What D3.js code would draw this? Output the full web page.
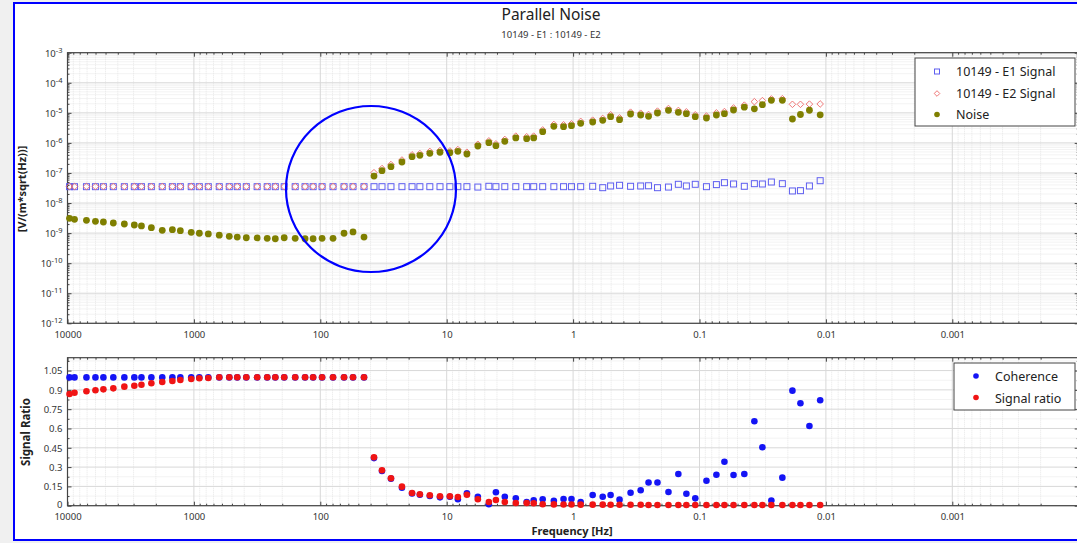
<!DOCTYPE html>
<html>
<head>
<meta charset="utf-8">
<script src="https://cdn.jsdelivr.net/npm/d3@7"></script>
<style>
  body { margin: 0; background: #f0f0f0; }
  svg { display: block; font-family: "Noto Sans", "DejaVu Sans", sans-serif; }
</style>
</head>
<body>
<div id="vis"></div>
<script>
// frecuencias [Hz], comunes a todas las series
const freq = [9640, 8800, 7080, 6010, 5200, 4340, 3550, 2960, 2600, 2170,
  1780, 1480, 1280, 1050, 906, 769, 630, 525, 454, 385,
  316, 263, 227, 193, 158, 132, 114, 96.8, 79.3, 64.9,
  55.1, 45.1, 37.6, 32.5, 27.6, 22.6, 18.8, 16.3, 13.6, 11.3,
  9.44, 8.16, 6.92, 5.67, 4.64, 4.08, 3.47, 2.84, 2.33, 2.05,
  1.74, 1.42, 1.19, 1.03, 0.871, 0.700, 0.583, 0.505, 0.429, 0.351,
  0.292, 0.253, 0.215, 0.176, 0.147, 0.127, 0.108, 0.0881, 0.0735, 0.0635,
  0.0538, 0.0442, 0.0368, 0.0318, 0.0270, 0.0221, 0.0184, 0.0159, 0.0135, 0.0111];

const e1Signal = [3.5e-8, 3.5e-8, 3.5e-8, 3.5e-8, 3.5e-8, 3.5e-8, 3.5e-8, 3.5e-8, 3.5e-8, 3.5e-8,
  3.5e-8, 3.5e-8, 3.5e-8, 3.5e-8, 3.5e-8, 3.5e-8, 3.5e-8, 3.5e-8, 3.5e-8, 3.5e-8,
  3.5e-8, 3.5e-8, 3.5e-8, 3.5e-8, 3.5e-8, 3.5e-8, 3.5e-8, 3.5e-8, 3.5e-8, 3.5e-8,
  3.5e-8, 3.5e-8, 3.5e-8, 3.5e-8, 3.5e-8, 3.5e-8, 3.5e-8, 3.5e-8, 3.5e-8, 3.5e-8,
  3.5e-8, 3.5e-8, 3.5e-8, 3.4e-8, 3.6e-8, 3.5e-8, 3.5e-8, 3.5e-8, 3.5e-8, 3.5e-8,
  3.5e-8, 3.5e-8, 3.5e-8, 3.5e-8, 3.5e-8, 3.6e-8, 3.24e-8, 3.69e-8, 3.89e-8, 3.6e-8,
  3.69e-8, 3.75e-8, 3.24e-8, 3.4e-8, 4.2e-8, 3.69e-8, 4.2e-8, 3.5e-8, 4.1e-8, 4.75e-8,
  4.3e-8, 3.6e-8, 4.4e-8, 4.3e-8, 5.0e-8, 4.4e-8, 2.52e-8, 2.58e-8, 3.69e-8, 5.53e-8];

const e2Signal = [3.55e-8, 3.55e-8, 3.55e-8, 3.55e-8, 3.55e-8, 3.55e-8, 3.55e-8, 3.55e-8, 3.55e-8, 3.55e-8,
  3.55e-8, 3.55e-8, 3.55e-8, 3.55e-8, 3.55e-8, 3.55e-8, 3.55e-8, 3.55e-8, 3.55e-8, 3.55e-8,
  3.55e-8, 3.55e-8, 3.55e-8, 3.55e-8, 3.55e-8, 3.55e-8, 3.55e-8, 3.55e-8, 3.55e-8, 3.55e-8,
  3.55e-8, 3.55e-8, 1.02e-7, 1.4e-7, 1.9e-7, 2.7e-7, 4.0e-7, 4.4e-7, 5.2e-7, 5.6e-7,
  5.4e-7, 6.0e-7, 4.9e-7, 9.0e-7, 1.17e-6, 9.3e-7, 1.3e-6, 1.68e-6, 1.6e-6, 1.68e-6,
  2.7e-6, 4.1e-6, 4.0e-6, 4.3e-6, 5.2e-6, 5.7e-6, 6.5e-6, 8.6e-6, 6.8e-6, 1.05e-5,
  9.7e-6, 8.8e-6, 1.14e-5, 1.39e-5, 1.2e-5, 1.08e-5, 8.6e-6, 7.8e-6, 1.0e-5, 1.1e-5,
  1.45e-5, 1.8e-5, 2.35e-5, 2.55e-5, 2.9e-5, 2.95e-5, 1.92e-5, 1.92e-5, 1.95e-5, 1.97e-5];

const noise = [3.11e-9, 2.88e-9, 2.67e-9, 2.47e-9, 2.34e-9, 2.17e-9, 2.01e-9, 1.86e-9, 1.73e-9, 1.51e-9,
  1.24e-9, 1.30e-9, 1.20e-9, 1.06e-9, 9.9e-10, 9.4e-10, 8.5e-10, 7.8e-10, 7.4e-10, 7.0e-10,
  6.9e-10, 6.7e-10, 6.5e-10, 7.0e-10, 6.7e-10, 6.5e-10, 6.5e-10, 6.7e-10, 6.7e-10, 9.9e-10,
  1.09e-9, 7.4e-10, 7.9e-8, 1.19e-7, 1.62e-7, 2.32e-7, 3.48e-7, 3.87e-7, 4.51e-7, 4.88e-7,
  4.72e-7, 5.26e-7, 4.28e-7, 7.89e-7, 1.02e-6, 8.07e-7, 1.13e-6, 1.46e-6, 1.38e-6, 1.46e-6,
  2.36e-6, 3.56e-6, 3.46e-6, 3.73e-6, 4.49e-6, 4.95e-6, 5.65e-6, 7.45e-6, 5.91e-6, 9.14e-6,
  8.47e-6, 7.67e-6, 9.88e-6, 1.21e-5, 1.04e-5, 9.36e-6, 7.45e-6, 6.74e-6, 8.47e-6, 9.36e-6,
  1.24e-5, 1.54e-5, 1.36e-5, 1.87e-5, 2.61e-5, 2.61e-5, 6.24e-6, 8.81e-6, 1.22e-5, 8.61e-6];

const coherence = [0.997, 0.997, 0.997, 0.997, 0.997, 0.997, 0.997, 0.997, 0.997, 0.997,
  0.997, 0.997, 0.997, 0.997, 0.997, 0.997, 0.997, 0.997, 0.997, 0.997,
  0.997, 0.997, 0.997, 0.997, 0.997, 0.997, 0.997, 0.997, 0.997, 0.997,
  0.997, 0.997, 0.37, 0.27, 0.21, 0.14, 0.095, 0.085, 0.075, 0.065,
  0.07, 0.05, 0.096, 0.07, 0.011, 0.104, 0.07, 0.057, 0.029, 0.042,
  0.05, 0.039, 0.052, 0.052, 0.029, 0.083, 0.07, 0.083, 0.047, 0.101,
  0.12, 0.18, 0.18, 0.107, 0.246, 0.093, 0.057, 0.194, 0.241, 0.342,
  0.238, 0.246, 0.656, 0.454, 0.04, 0.218, 0.894, 0.796, 0.619, 0.819];

const signalRatio = [0.868, 0.878, 0.889, 0.897, 0.904, 0.912, 0.925, 0.932, 0.940, 0.951,
  0.961, 0.969, 0.977, 0.984, 0.990, 0.992, 0.998, 0.998, 0.998, 0.998,
  0.998, 0.998, 0.998, 0.998, 0.998, 0.998, 0.998, 0.998, 0.998, 0.998,
  0.998, 0.998, 0.376, 0.275, 0.213, 0.148, 0.099, 0.089, 0.081, 0.073,
  0.073, 0.068, 0.085, 0.05, 0.029, 0.044, 0.029, 0.021, 0.021, 0.019,
  0.011, 0.01, 0.009, 0.009, 0.008, 0.008, 0.008, 0.007, 0.007, 0.007,
  0.007, 0.006, 0.006, 0.006, 0.006, 0.006, 0.006, 0.005, 0.005, 0.005,
  0.005, 0.005, 0.005, 0.005, 0.005, 0.005, 0.005, 0.005, 0.005, 0.005];

const xTicks = [10000, 1000, 100, 10, 1, 0.1, 0.01, 0.001];
const xTickLabels = ["10000", "1000", "100", "10", "1", "0.1", "0.01", "0.001"];
const yTopTicks = [1e-12, 1e-11, 1e-10, 1e-9, 1e-8, 1e-7, 1e-6, 1e-5, 1e-4, 1e-3];
const yBotTicks = [0, 0.15, 0.3, 0.45, 0.6, 0.75, 0.9, 1.05];
const topLegend = ["10149 - E1 Signal", "10149 - E2 Signal", "Noise"];
const botLegend = ["Coherence", "Signal ratio"];

const WIDTH = 1077;
const HEIGHT = 543;
const LEFT = 67.5, RIGHT = 1078.7;
const TOP1 = 52.7, BOTTOM1 = 323.3;
const TOP2 = 357.7, BOTTOM2 = 505.7;

const SVG = d3.select("#vis").append("svg").attr("width", WIDTH).attr("height", HEIGHT);

SVG.append("rect").attr("width", WIDTH).attr("height", HEIGHT).attr("fill", "#f0f0f0");
SVG.append("rect")
  .attr("x", 14).attr("y", 3).attr("width", 1080).attr("height", 537)
  .attr("fill", "#fff").attr("stroke", "#0000ff").attr("stroke-width", 2);

const escalaX = d3.scaleLog().domain([1e4, 1e-4]).range([LEFT, RIGHT]);
const escalaY1 = d3.scaleLog().domain([1e-12, 1e-3]).range([BOTTOM1, TOP1]);
const escalaY2 = d3.scaleLinear().domain([0, 1.15]).range([BOTTOM2, TOP2]);

// valores menores del eje log
const xMinor = [];
for (let k = -4; k < 4; k++) for (let m = 2; m <= 9; m++) xMinor.push(m * Math.pow(10, k));
const yMinor = [];
for (let k = -12; k < -3; k++) for (let m = 2; m <= 9; m++) yMinor.push(m * Math.pow(10, k));
const y2Minor = d3.range(0.075, 1.15, 0.15);

// rombo regular (cuadrado girado)
const rombo = (s) => `M0,${-s}L${s},0L0,${s}L${-s},0Z`;

function grid(g, top, bottom, yScale, yMaj, yMin) {
  g.selectAll(".gxm").data(xMinor).join("line")
    .attr("x1", escalaX).attr("x2", escalaX).attr("y1", top).attr("y2", bottom)
    .attr("stroke", "#e6e6e6").attr("stroke-dasharray", "1,1");
  g.selectAll(".gym").data(yMin).join("line")
    .attr("x1", LEFT).attr("x2", RIGHT).attr("y1", yScale).attr("y2", yScale)
    .attr("stroke", "#e6e6e6").attr("stroke-dasharray", "1,1");
  g.append("g").selectAll("line").data(xTicks).join("line")
    .attr("x1", escalaX).attr("x2", escalaX).attr("y1", top).attr("y2", bottom)
    .attr("stroke", "#d8d8d8");
  g.append("g").selectAll("line").data(yMaj).join("line")
    .attr("x1", LEFT).attr("x2", RIGHT).attr("y1", yScale).attr("y2", yScale)
    .attr("stroke", "#d8d8d8");
}

function frame(top, bottom, yScale, yMaj, yMin, labelFn) {
  const g = SVG.append("g");
  grid(g, top, bottom, yScale, yMaj, yMin);
  // ejes con ticks hacia adentro
  const axB = g.append("g").attr("transform", `translate(0, ${bottom})`);
  axB.call(d3.axisBottom(escalaX).tickValues(xMinor).tickSize(-2).tickFormat(""));
  axB.append("g").call(d3.axisBottom(escalaX).tickValues(xTicks).tickSizeInner(-4).tickSizeOuter(0).tickPadding(8)
    .tickFormat((d, i) => xTickLabels[i]));
  const axT = g.append("g").attr("transform", `translate(0, ${top})`);
  axT.call(d3.axisTop(escalaX).tickValues(xMinor).tickSize(-2).tickFormat(""));
  axT.append("g").call(d3.axisTop(escalaX).tickValues(xTicks).tickSize(-4).tickFormat(""));
  const axL = g.append("g").attr("transform", `translate(${LEFT}, 0)`);
  axL.call(d3.axisLeft(yScale).tickValues(yMin).tickSize(-2).tickFormat(""));
  const axL2 = axL.append("g").call(d3.axisLeft(yScale).tickValues(yMaj).tickSizeInner(-4).tickSizeOuter(0).tickFormat(""));
  const axR = g.append("g").attr("transform", `translate(${RIGHT}, 0)`);
  axR.call(d3.axisRight(yScale).tickValues(yMin).tickSize(-2).tickFormat(""));
  axR.append("g").call(d3.axisRight(yScale).tickValues(yMaj).tickSize(-4).tickFormat(""));
  g.selectAll(".domain").remove();
  g.selectAll(".tick line").attr("stroke", "#444");
  g.selectAll(".tick text").attr("font-family", "'Noto Sans', sans-serif").attr("font-size", 9.5).attr("fill", "#333");
  axL2.selectAll(".tick").append("text")
    .attr("x", -5).attr("dy", "0.35em").attr("text-anchor", "end")
    .attr("font-size", 9.5).attr("fill", "#333").attr("font-family", "'Noto Sans', sans-serif")
    .each(function (d) { labelFn(d3.select(this), d); });
  g.append("rect").attr("x", LEFT).attr("y", top).attr("width", RIGHT - LEFT).attr("height", bottom - top)
    .attr("fill", "none").attr("stroke", "#444").attr("stroke-width", 1.2);
  return g;
}

const grafico1 = frame(TOP1, BOTTOM1, escalaY1, yTopTicks, yMinor, (t, d) => {
  t.append("tspan").text("10");
  t.append("tspan").attr("dy", -4).attr("font-size", 7.5).text(Math.round(Math.log10(d)));
});
const grafico2 = frame(TOP2, BOTTOM2, escalaY2, yBotTicks, y2Minor, (t, d) => {
  t.attr("dy", d === 0 ? "0.2em" : "0.35em").text(d3.format("~g")(d));
});

// series superiores
grafico1.append("g").selectAll("rect").data(freq).join("rect")
  .attr("x", (d) => escalaX(d) - 3).attr("y", (d, i) => escalaY1(e1Signal[i]) - 3)
  .attr("width", 6).attr("height", 6)
  .attr("fill", "none").attr("stroke", "#5f5ff0").attr("stroke-width", 1);
grafico1.append("g").selectAll("path").data(freq).join("path")
  .attr("d", rombo(3.3))
  .attr("transform", (d, i) => `translate(${escalaX(d)}, ${escalaY1(e2Signal[i])})`)
  .attr("fill", "none").attr("stroke", "#f07878").attr("stroke-width", 1);
grafico1.append("g").selectAll("circle").data(freq).join("circle")
  .attr("cx", escalaX).attr("cy", (d, i) => escalaY1(noise[i]))
  .attr("r", 3.4).attr("fill", "#7f7f00");

// series inferiores
grafico2.append("g").selectAll("circle").data(freq).join("circle")
  .attr("cx", escalaX).attr("cy", (d, i) => escalaY2(coherence[i]))
  .attr("r", 3.3).attr("fill", "#1414f5");
grafico2.append("g").selectAll("circle").data(freq).join("circle")
  .attr("cx", escalaX).attr("cy", (d, i) => escalaY2(signalRatio[i]))
  .attr("r", 3.3).attr("fill", "#f01414");

// leyendas
const ley1 = SVG.append("g");
ley1.append("rect").attr("x", 915).attr("y", 58).attr("width", 160).attr("height", 68)
  .attr("fill", "#fff").attr("stroke", "#444");
ley1.selectAll("text").data(topLegend).join("text")
  .attr("x", 956).attr("y", (d, i) => 72 + i * 21.5).attr("dy", "0.35em")
  .attr("font-size", 12.5).attr("fill", "#222").text((d) => d);
ley1.append("rect").attr("x", 934.5).attr("y", 69).attr("width", 5).attr("height", 5)
  .attr("fill", "none").attr("stroke", "#5f5ff0");
ley1.append("path").attr("d", rombo(2.8))
  .attr("transform", "translate(937, 93.5)").attr("fill", "none").attr("stroke", "#f07878");
ley1.append("circle").attr("cx", 937).attr("cy", 114.5).attr("r", 2.8).attr("fill", "#7f7f00");

const ley2 = SVG.append("g");
ley2.append("rect").attr("x", 954).attr("y", 363).attr("width", 121).attr("height", 47)
  .attr("fill", "#fff").attr("stroke", "#444");
ley2.selectAll("text").data(botLegend).join("text")
  .attr("x", 995).attr("y", (d, i) => 377 + i * 21.5).attr("dy", "0.35em")
  .attr("font-size", 12.5).attr("fill", "#222").text((d) => d);
ley2.append("circle").attr("cx", 976).attr("cy", 376).attr("r", 2.8).attr("fill", "#1414f5");
ley2.append("circle").attr("cx", 976).attr("cy", 397.5).attr("r", 2.8).attr("fill", "#f01414");

// titulos
SVG.append("text").attr("x", 551).attr("y", 20).attr("text-anchor", "middle")
  .attr("font-size", 15.5).attr("fill", "#222").text("Parallel Noise");
SVG.append("text").attr("x", 551).attr("y", 38).attr("text-anchor", "middle")
  .attr("font-size", 9.5).attr("fill", "#333").text("10149 - E1 : 10149 - E2");
SVG.append("text").attr("transform", "translate(26, 189) rotate(-90)").attr("text-anchor", "middle")
  .attr("font-size", 11).attr("font-weight", "bold").attr("fill", "#222").text("[V/(m*sqrt(Hz))]");
SVG.append("text").attr("transform", "translate(30, 432) rotate(-90)").attr("text-anchor", "middle")
  .attr("font-size", 11.5).attr("font-weight", "bold").attr("fill", "#222").text("Signal Ratio");
SVG.append("text").attr("x", 572).attr("y", 535).attr("text-anchor", "middle")
  .attr("font-size", 11).attr("font-weight", "bold").attr("fill", "#222").text("Frequency [Hz]");

// anotacion
SVG.append("ellipse").attr("cx", 371).attr("cy", 189).attr("rx", 85).attr("ry", 83)
  .attr("fill", "none").attr("stroke", "#0000ff").attr("stroke-width", 2.2);
</script>
</body>
</html>
